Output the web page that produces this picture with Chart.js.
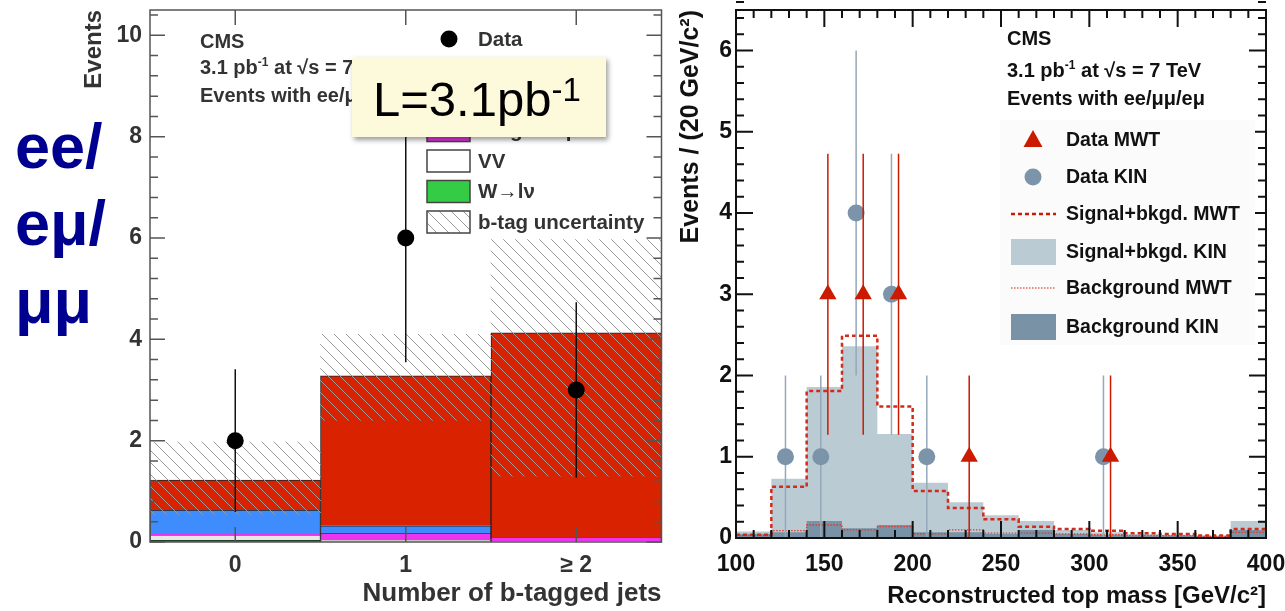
<!DOCTYPE html>
<html>
<head>
<meta charset="utf-8">
<title>Dilepton events: b-tagged jets and reconstructed top mass</title>
<script src="https://cdn.jsdelivr.net/npm/chart.js@4.4.1/dist/chart.umd.min.js"></script>
<style>
  body { margin: 0; background: #fff; font-family: 'Liberation Sans', Arial, sans-serif; }
  #page { position: relative; width: 1285px; height: 611px; overflow: hidden; background: #fff; }
  canvas { position: absolute; top: 0; }
  #bjets { left: 60px; }
  #mass { left: 668px; }
  .chan { position: absolute; left: 15px; font-size: 63px; line-height: 63px; font-weight: bold; color: #000090; white-space: nowrap; }
  #lumi { position: absolute; left: 352px; top: 57px; width: 254px; height: 80px; background: #fdfadc; box-shadow: 2px 3px 5px rgba(0, 0, 0, 0.4); }
  #lumi .txt { position: absolute; left: 21px; top: 18px; font-size: 49px; line-height: 49px; color: #000; white-space: nowrap; }
  #lumi .sup { font-size: 33px; line-height: 0; position: relative; top: -15px; }
</style>
</head>
<body>
<div id="page">
  <canvas id="bjets" width="610" height="611"></canvas>
  <canvas id="mass" width="617" height="611"></canvas>
  <div class="chan" style="top:115px">ee/</div>
  <div class="chan" style="top:192px">eμ/</div>
  <div class="chan" style="top:270px">μμ</div>
  <div id="lumi"><span class="txt">L=3.1pb<span class="sup">-1</span></span></div>
</div>
<script>
Chart.defaults.font.family = "'Liberation Sans', Arial, sans-serif";

// --- left panel: number of b-tagged jets ---
const bjetLabels = ['0', '1', '≥ 2'];
const wJets = [0.04, 0.0, 0.0];
const dibosons = [0.10, 0.05, 0.02];
const singleTop = [0.02, 0.12, 0.08];
const zJets = [0.47, 0.15, 0.0];
const ttSignal = [0.59, 2.96, 4.03];
const btagLow = [0.55, 2.4, 1.3];
const btagHigh = [1.97, 4.1, 5.97];
const bjetEvents = [2, 6, 3];
const bjetErrLow = [0.59, 3.55, 1.27];
const bjetErrHigh = [3.41, 8.45, 4.73];

// --- right panel: reconstructed top mass, 20 GeV bins ---
const massEdges = [100, 120, 140, 160, 180, 200, 220, 240, 260, 280, 300, 320, 340, 360, 380, 400];
const sigBkgKin = [0.08, 0.73, 1.86, 2.36, 1.28, 0.68, 0.44, 0.28, 0.21, 0.10, 0.07, 0.05, 0.04, 0.03, 0.21];
const sigBkgMwt = [0.04, 0.63, 1.81, 2.49, 1.62, 0.58, 0.37, 0.23, 0.14, 0.11, 0.09, 0.06, 0.05, 0.03, 0.11];
const bkgKin = [0.05, 0.07, 0.21, 0.12, 0.16, 0.07, 0.07, 0.05, 0.10, 0.05, 0.04, 0.03, 0.03, 0.02, 0.10];
const bkgMwt = [0.03, 0.09, 0.16, 0.10, 0.14, 0.05, 0.10, 0.06, 0.06, 0.05, 0.04, 0.03, 0.03, 0.02, 0.07];
const mwtMass = [152, 172, 192, 232, 312];
const mwtEvents = [3, 3, 3, 1, 1];
const mwtErrLow = [1.27, 1.27, 1.27, 0, 0];
const mwtErrHigh = [4.73, 4.73, 4.73, 2, 2];
const kinMass = [128, 148, 168, 188, 208, 308];
const kinEvents = [1, 1, 4, 3, 1, 1];
const kinErrLow = [0, 0, 2, 1.27, 0, 0];
const kinErrHigh = [2, 2, 6, 4.73, 2, 2];

const RED = '#d92200', BLUE = '#3f8cff', MAGENTA = '#ee33ee', GREEN = '#2f8f3c';
const KIN_LIGHT = '#bacbd4', KIN_DARK = '#7a92a5', KIN_POINT = '#7c94aa', MWT_RED = '#cc1a00';

function hatchPattern() {
  const c = document.createElement('canvas');
  c.width = 12; c.height = 12;
  const g = c.getContext('2d');
  g.strokeStyle = '#9a9a9a';
  g.lineWidth = 1;
  g.beginPath();
  g.moveTo(0, 0); g.lineTo(12, 12);
  g.moveTo(-6, 6); g.lineTo(6, 18);
  g.moveTo(6, -6); g.lineTo(18, 6);
  g.stroke();
  return g.createPattern(c, 'repeat');
}
const hatch = hatchPattern();

// cumulative floating bars, bottom component first
function stackParts(parts) {
  let base = parts[0].map(() => 0);
  return parts.map(p => {
    const bars = p.map((v, i) => [base[i], base[i] + v]);
    base = bars.map(b => b[1]);
    return bars;
  });
}
const [wBars, vvBars, stBars, zBars, ttBars] = stackParts([wJets, dibosons, singleTop, zJets, ttSignal]);

// histogram as step line: one point per left edge plus the closing edge
function stepPoints(values) {
  const pts = values.map((v, i) => ({ x: massEdges[i], y: v }));
  pts.push({ x: massEdges[massEdges.length - 1], y: values[values.length - 1] });
  return pts;
}

function drawErrors(chart, xs, lo, hi, color) {
  const ctx = chart.ctx, ys = chart.scales.y;
  ctx.save();
  ctx.strokeStyle = color;
  ctx.lineWidth = 1.5;
  ctx.beginPath();
  xs.forEach((x, i) => {
    ctx.moveTo(x, ys.getPixelForValue(lo[i]));
    ctx.lineTo(x, ys.getPixelForValue(hi[i]));
  });
  ctx.stroke();
  ctx.restore();
}

function frameTicks(chart, color, width, xMarks, yMajor, yMinor, yLen) {
  const ctx = chart.ctx, a = chart.chartArea, xs = chart.scales.x, ys = chart.scales.y;
  ctx.save();
  ctx.strokeStyle = color;
  ctx.lineWidth = width;
  ctx.beginPath();
  xMarks.forEach(m => {
    const p = xs.getPixelForValue(m[0]);
    ctx.moveTo(p, a.bottom); ctx.lineTo(p, a.bottom - m[1]);
    ctx.moveTo(p, a.top); ctx.lineTo(p, a.top + m[1]);
  });
  const n = Math.round(ys.max / yMinor);
  for (let i = 0; i <= n; i++) {
    const v = i * yMinor;
    const len = Math.abs(v / yMajor - Math.round(v / yMajor)) < 1e-6 ? yLen : 8;
    const p = ys.getPixelForValue(v);
    ctx.moveTo(a.left, p); ctx.lineTo(a.left + len, p);
    ctx.moveTo(a.right, p); ctx.lineTo(a.right - len, p);
  }
  ctx.stroke();
  ctx.strokeRect(a.left, a.top, a.right - a.left, a.bottom - a.top);
  ctx.restore();
}

// text with optional superscript pieces: [[text, isSup], ...]
function richText(ctx, x, y, parts, size, color) {
  ctx.save();
  ctx.fillStyle = color;
  ctx.textBaseline = 'alphabetic';
  ctx.textAlign = 'left';
  parts.forEach(([t, sup]) => {
    const s = sup ? size * 0.6 : size;
    ctx.font = 'bold ' + s + "px 'Liberation Sans', Arial, sans-serif";
    ctx.fillText(t, x, sup ? y - size * 0.4 : y);
    x += ctx.measureText(t).width;
  });
  ctx.restore();
}

// keep the plot frame where the picture has it: no label overhang padding
const noPad = s => { s.paddingTop = 0; s.paddingBottom = 0; s.paddingLeft = 0; s.paddingRight = 0; };

const bjetDecor = {
  id: 'bjetDecor',
  beforeDatasetDraw(chart, args) {
    if (args.index !== 0) return;
    const xs = bjetEvents.map((v, i) => chart.scales.x.getPixelForValue(i));
    drawErrors(chart, xs, bjetErrLow, bjetErrHigh, '#111');
  },
  afterDraw(chart) {
    const ctx = chart.ctx;
    frameTicks(chart, '#555', 1.5, bjetLabels.map((l, i) => [i, 15]), 2, 0.4, 15);

    richText(ctx, 140, 48, [['CMS', 0]], 20, '#333');
    richText(ctx, 140, 74, [['3.1 pb', 0], ['-1', 1], [' at √s = 7 TeV', 0]], 20, '#333');
    richText(ctx, 140, 102, [['Events with ee/μμ/eμ', 0]], 20, '#333');

    const rows = [
      ['point', '#000', 'Data'],
      ['box', RED, 't t̄ signal'],
      ['box', BLUE, 'Z/γ*→ll'],
      ['box', MAGENTA, 'Single-top'],
      ['box', '#fff', 'VV'],
      ['box', '#33cc44', 'W→lν'],
      ['box', hatch, 'b-tag uncertainty']
    ];
    ctx.save();
    rows.forEach(([kind, col, label], i) => {
      const y = 39 + i * 30.5;
      if (kind === 'point') {
        ctx.fillStyle = col;
        ctx.beginPath(); ctx.arc(389, y, 8.5, 0, Math.PI * 2); ctx.fill();
      } else {
        ctx.fillStyle = col;
        ctx.fillRect(367, y - 11, 43, 22);
        ctx.strokeStyle = '#444'; ctx.lineWidth = 1.5;
        ctx.strokeRect(367, y - 11, 43, 22);
      }
      ctx.fillStyle = '#333';
      ctx.font = "bold 20.5px 'Liberation Sans', Arial, sans-serif";
      ctx.textBaseline = 'middle';
      ctx.fillText(label, 418, y + 1);
    });
    ctx.restore();
  }
};

const barCommon = { barPercentage: 1, categoryPercentage: 1, grouped: false, borderColor: '#222', borderWidth: 1, borderSkipped: 'start', order: 2 };

new Chart(document.getElementById('bjets'), {
  type: 'bar',
  data: {
    labels: bjetLabels,
    datasets: [
      { type: 'line', label: 'Data', data: bjetEvents, showLine: false, pointRadius: 8.5, pointBackgroundColor: '#000', pointBorderWidth: 0, order: 0 },
      { label: 'b-tag uncertainty', data: btagLow.map((lo, i) => [lo, btagHigh[i]]), backgroundColor: hatch, barPercentage: 1, categoryPercentage: 1, grouped: false, borderWidth: 0, order: 1 },
      Object.assign({ label: 'ttbar', data: ttBars, backgroundColor: RED }, barCommon),
      Object.assign({ label: 'Z', data: zBars, backgroundColor: BLUE }, barCommon),
      Object.assign({ label: 'single top', data: stBars, backgroundColor: MAGENTA }, barCommon),
      Object.assign({ label: 'VV', data: vvBars, backgroundColor: '#e8e8e8' }, barCommon),
      Object.assign({ label: 'W', data: wBars, backgroundColor: GREEN }, barCommon)
    ]
  },
  options: {
    responsive: false,
    animation: false,
    layout: { padding: { left: 0, right: 7, top: 10, bottom: 0 } },
    plugins: { legend: { display: false }, tooltip: { enabled: false } },
    scales: {
      x: {
        offset: true,
        grid: { display: false, drawTicks: false },
        border: { display: false },
        ticks: { color: '#333', font: { size: 23, weight: 'bold' }, padding: 10, maxRotation: 0 },
        title: { display: true, text: 'Number of b-tagged jets', align: 'end', color: '#333', font: { size: 26, weight: 'bold' }, padding: { top: 0, bottom: 2 } },
        afterFit: s => { s.height = 69; noPad(s); }
      },
      y: {
        min: 0, max: 10.5,
        grid: { display: false, drawTicks: false },
        border: { display: false },
        ticks: { stepSize: 2, includeBounds: false, color: '#333', font: { size: 23, weight: 'bold' }, padding: 8 },
        title: { display: true, text: 'Events', align: 'end', color: '#333', font: { size: 24, weight: 'bold' }, padding: { top: 20, bottom: 0 } },
        afterFit: s => { s.width = 90; noPad(s); }
      }
    }
  },
  plugins: [bjetDecor]
});

const massDecor = {
  id: 'massDecor',
  beforeDatasetDraw(chart, args) {
    const xs = chart.scales.x;
    if (args.index === 1) drawErrors(chart, kinMass.map(m => xs.getPixelForValue(m)), kinErrLow, kinErrHigh, '#94a9ba');
    if (args.index === 0) drawErrors(chart, mwtMass.map(m => xs.getPixelForValue(m)), mwtErrLow, mwtErrHigh, MWT_RED);
  },
  afterDraw(chart) {
    const ctx = chart.ctx;
    const marks = [];
    for (let m = 100; m <= 400; m += 10) marks.push([m, m % 50 === 0 ? 17 : 8]);
    frameTicks(chart, '#111', 2, marks, 1, 0.2, 17);

    ctx.save();
    ctx.fillStyle = '#fbfbfb';
    ctx.fillRect(332, 120, 255, 225);
    ctx.restore();

    richText(ctx, 339, 45, [['CMS', 0]], 20, '#111');
    richText(ctx, 339, 77, [['3.1 pb', 0], ['-1', 1], [' at √s = 7 TeV', 0]], 20, '#111');
    richText(ctx, 339, 105, [['Events with ee/μμ/eμ', 0]], 20, '#111');

    const rows = ['Data MWT', 'Data KIN', 'Signal+bkgd. MWT', 'Signal+bkgd. KIN', 'Background MWT', 'Background KIN'];
    const ys = [140, 177, 214, 252, 288, 327];
    ctx.save();
    ctx.fillStyle = MWT_RED;
    ctx.beginPath();
    ctx.moveTo(365, ys[0] - 10); ctx.lineTo(374.5, ys[0] + 7); ctx.lineTo(355.5, ys[0] + 7); ctx.closePath(); ctx.fill();
    ctx.fillStyle = KIN_POINT;
    ctx.beginPath(); ctx.arc(365, ys[1], 8.5, 0, Math.PI * 2); ctx.fill();
    ctx.strokeStyle = MWT_RED;
    ctx.lineWidth = 2.5; ctx.setLineDash([4, 3]);
    ctx.beginPath(); ctx.moveTo(343, ys[2]); ctx.lineTo(388, ys[2]); ctx.stroke();
    ctx.lineWidth = 1.2; ctx.setLineDash([1.5, 1.5]);
    ctx.beginPath(); ctx.moveTo(343, ys[4]); ctx.lineTo(388, ys[4]); ctx.stroke();
    ctx.setLineDash([]);
    ctx.fillStyle = KIN_LIGHT; ctx.fillRect(343, ys[3] - 13, 45, 26);
    ctx.fillStyle = KIN_DARK; ctx.fillRect(343, ys[5] - 13, 45, 26);
    ctx.fillStyle = '#111';
    ctx.font = "bold 19.5px 'Liberation Sans', Arial, sans-serif";
    ctx.textBaseline = 'middle';
    rows.forEach((r, i) => ctx.fillText(r, 398, ys[i] + 1));
    ctx.restore();
  }
};

const stepCommon = { stepped: true, pointRadius: 0, tension: 0 };

new Chart(document.getElementById('mass'), {
  type: 'line',
  data: {
    datasets: [
      { label: 'Data MWT', data: mwtMass.map((m, i) => ({ x: m, y: mwtEvents[i] })), showLine: false, pointStyle: 'triangle', pointRadius: 10, pointBackgroundColor: MWT_RED, pointBorderWidth: 0 },
      { label: 'Data KIN', data: kinMass.map((m, i) => ({ x: m, y: kinEvents[i] })), showLine: false, pointStyle: 'circle', pointRadius: 8.5, pointBackgroundColor: KIN_POINT, pointBorderWidth: 0 },
      Object.assign({ label: 'Signal+bkgd. MWT', data: stepPoints(sigBkgMwt), borderColor: '#d42a1a', borderWidth: 2.5, borderDash: [4, 3], fill: false }, stepCommon),
      Object.assign({ label: 'Background MWT', data: stepPoints(bkgMwt), borderColor: '#e03a2a', borderWidth: 1.3, borderDash: [1.5, 1.5], fill: false }, stepCommon),
      Object.assign({ label: 'Background KIN', data: stepPoints(bkgKin), borderColor: 'transparent', backgroundColor: KIN_DARK, fill: 'origin' }, stepCommon),
      Object.assign({ label: 'Signal+bkgd. KIN', data: stepPoints(sigBkgKin), borderColor: 'transparent', backgroundColor: KIN_LIGHT, fill: 'origin' }, stepCommon)
    ]
  },
  options: {
    responsive: false,
    animation: false,
    layout: { padding: { left: 0, right: 19, top: 10, bottom: 0 } },
    plugins: { legend: { display: false }, tooltip: { enabled: false } },
    scales: {
      x: {
        type: 'linear', min: 100, max: 400,
        grid: { display: false, drawTicks: false },
        border: { display: false },
        ticks: { stepSize: 50, color: '#111', font: { size: 23, weight: 'bold' }, padding: 13, maxRotation: 0 },
        title: { display: true, text: 'Reconstructed top mass [GeV/c²]', align: 'end', color: '#111', font: { size: 24, weight: 'bold' }, padding: { top: 0, bottom: 0 } },
        afterFit: s => { s.height = 73; noPad(s); }
      },
      y: {
        min: 0, max: 6.5,
        grid: { display: false, drawTicks: false },
        border: { display: false },
        ticks: { stepSize: 1, includeBounds: false, color: '#111', font: { size: 23, weight: 'bold' }, padding: 4 },
        title: { display: true, text: 'Events / (20 GeV/c²)', align: 'end', color: '#111', font: { size: 25, weight: 'bold' }, padding: { top: 8, bottom: 0 } },
        afterFit: s => { s.width = 68; noPad(s); }
      }
    }
  },
  plugins: [massDecor]
});
</script>
</body>
</html>
